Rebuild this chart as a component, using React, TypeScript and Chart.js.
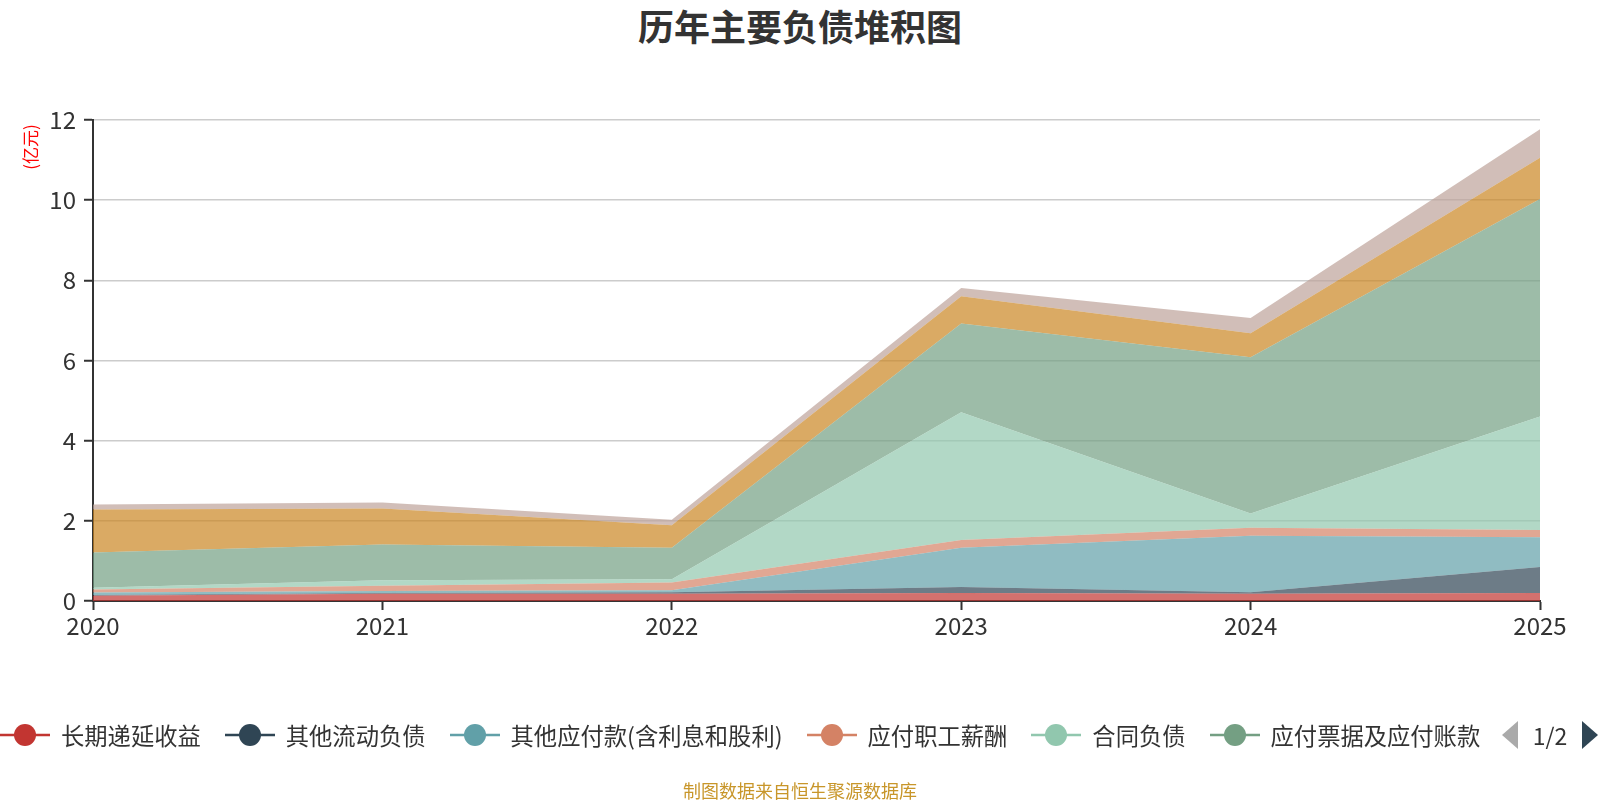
import React, { useEffect, useRef } from "react";
import { Chart, registerables } from "chart.js";

Chart.register(...registerables);

const years = ["2020", "2021", "2022", "2023", "2024", "2025"];

const seriesNames = [
  "长期递延收益",
  "其他流动负债",
  "其他应付款(含利息和股利)",
  "应付职工薪酬",
  "合同负债",
  "应付票据及应付账款",
  "应交税费",
  "租赁负债",
];

const deferredIncome = [0.13, 0.18, 0.18, 0.2, 0.18, 0.2];
const otherCurrentLiab = [0.02, 0.02, 0.04, 0.15, 0.04, 0.65];
const otherPayables = [0.06, 0.05, 0.05, 0.98, 1.41, 0.74];
const payrollPayable = [0.08, 0.13, 0.19, 0.19, 0.2, 0.18];
const contractLiab = [0.04, 0.14, 0.08, 3.19, 0.35, 2.83];
const notesAccountsPayable = [0.88, 0.89, 0.79, 2.21, 3.9, 5.43];
const taxesPayable = [1.07, 0.9, 0.56, 0.68, 0.6, 1.03];
const leaseLiab = [0.13, 0.15, 0.14, 0.21, 0.38, 0.71];

const seriesValues = [
  deferredIncome,
  otherCurrentLiab,
  otherPayables,
  payrollPayable,
  contractLiab,
  notesAccountsPayable,
  taxesPayable,
  leaseLiab,
];

const colors = ["#c23531", "#2f4554", "#61a0a8", "#d48265", "#91c7ae", "#749f83", "#ca8622", "#bda29a"];

const yTicks = [0, 2, 4, 6, 8, 10, 12];

const FONT = '"Noto Sans CJK SC", "Noto Sans", sans-serif';

function hexA(hex: string, a: number) {
  const r = parseInt(hex.slice(1, 3), 16);
  const g = parseInt(hex.slice(3, 5), 16);
  const b = parseInt(hex.slice(5, 7), 16);
  return `rgba(${r},${g},${b},${a})`;
}

const unitLabelPlugin = {
  id: "unitLabel",
  afterDraw(chart: any) {
    const { ctx, chartArea } = chart;
    ctx.save();
    ctx.translate(chartArea.left - 62, chartArea.top + 27);
    ctx.rotate(-Math.PI / 2);
    ctx.fillStyle = "#ff0000";
    ctx.font = `17px ${FONT}`;
    ctx.textAlign = "center";
    ctx.textBaseline = "middle";
    ctx.fillText("(亿元)", 0, 0);
    ctx.restore();
  },
};

export default function App() {
  const canvasRef = useRef<HTMLCanvasElement>(null);

  useEffect(() => {
    if (!canvasRef.current) return;
    const chart = new Chart(canvasRef.current, {
      type: "line",
      data: {
        labels: years,
        datasets: seriesNames.map((name, i) => ({
          label: name,
          data: seriesValues[i],
          backgroundColor: hexA(colors[i], 0.7),
          borderColor: hexA(colors[i], 0.7),
          borderWidth: 0,
          pointRadius: 0,
          fill: i === 0 ? "origin" : "-1",
          tension: 0,
        })),
      },
      options: {
        animation: false,
        responsive: false,
        maintainAspectRatio: false,
        layout: { padding: { left: 0, right: 60, top: 120, bottom: 159 } },
        plugins: {
          legend: { display: false },
          title: { display: false },
          tooltip: { enabled: false },
        },
        scales: {
          x: {
            offset: false,
            grid: {
              display: true,
              color: "rgba(0,0,0,0)",
              tickColor: "#333",
              tickLength: 9,
              tickWidth: 2,
              drawOnChartArea: false,
            },
            border: { display: true, color: "#333", width: 2 },
            ticks: {
              color: "#333",
              font: { size: 24, family: FONT },
              padding: 1,
              maxRotation: 0,
            },
            afterFit(scale: any) {
              scale.height = 40;
            },
          },
          y: {
            stacked: true,
            min: 0,
            max: 12,
            afterBuildTicks(scale: any) {
              scale.ticks = yTicks.map((v) => ({ value: v }));
            },
            grid: {
              color: "#cccccc",
              lineWidth: 1.5,
              tickColor: "#333",
              tickLength: 9,
              tickWidth: 2,
            },
            border: { display: true, color: "#333", width: 2 },
            ticks: {
              color: "#333",
              font: { size: 24, family: FONT },
              padding: 8,
            },
            afterFit(scale: any) {
              scale.width = 93;
            },
          },
        },
      },
      plugins: [unitLabelPlugin],
    });
    return () => chart.destroy();
  }, []);

  const legendItems = seriesNames.slice(0, 6);

  return (
    <div
      style={{
        position: "fixed",
        left: 0,
        top: 0,
        width: 1600,
        height: 800,
        background: "#fff",
        fontFamily: FONT,
        overflow: "hidden",
      }}
    >
      <div
        style={{
          position: "absolute",
          left: 0,
          width: 1600,
          top: 0,
          textAlign: "center",
          fontSize: 36,
          fontWeight: "bold",
          color: "#333",
          lineHeight: "50px",
        }}
      >
        历年主要负债堆积图
      </div>
      <canvas ref={canvasRef} width={1600} height={800} style={{ position: "absolute", left: 0, top: 0 }} />
      <div
        style={{
          position: "absolute",
          left: 0,
          top: 719,
          width: 1486,
          height: 32,
          overflow: "hidden",
          whiteSpace: "nowrap",
          display: "flex",
          alignItems: "center",
        }}
      >
        {legendItems.map((name, i) => (
          <div
            key={name}
            style={{ display: "flex", alignItems: "center", marginRight: 24, flexShrink: 0 }}
          >
            <svg width={50} height={26} style={{ display: "block" }}>
              <line x1={0} y1={13} x2={50} y2={13} stroke={colors[i]} strokeWidth={2.5} />
              <circle cx={25} cy={13} r={11} fill={colors[i]} />
            </svg>
            <span style={{ fontSize: 23.3, color: "#333", marginLeft: 11, lineHeight: "32px" }}>{name}</span>
          </div>
        ))}
      </div>
      <svg width={100} height={40} style={{ position: "absolute", left: 1500, top: 715 }}>
        <polygon points="18,6 18,34 2,20" fill="#aaaaaa" />
        <polygon points="82,6 82,34 98,20" fill="#2f4554" />
      </svg>
      <div
        style={{
          position: "absolute",
          left: 1530,
          top: 719,
          width: 40,
          textAlign: "center",
          fontSize: 23,
          color: "#333",
          lineHeight: "32px",
        }}
      >
        1/2
      </div>
      <div
        style={{
          position: "absolute",
          left: 0,
          width: 1600,
          top: 777,
          textAlign: "center",
          fontSize: 18,
          color: "#c8962a",
          lineHeight: "26px",
        }}
      >
        制图数据来自恒生聚源数据库
      </div>
    </div>
  );
}
